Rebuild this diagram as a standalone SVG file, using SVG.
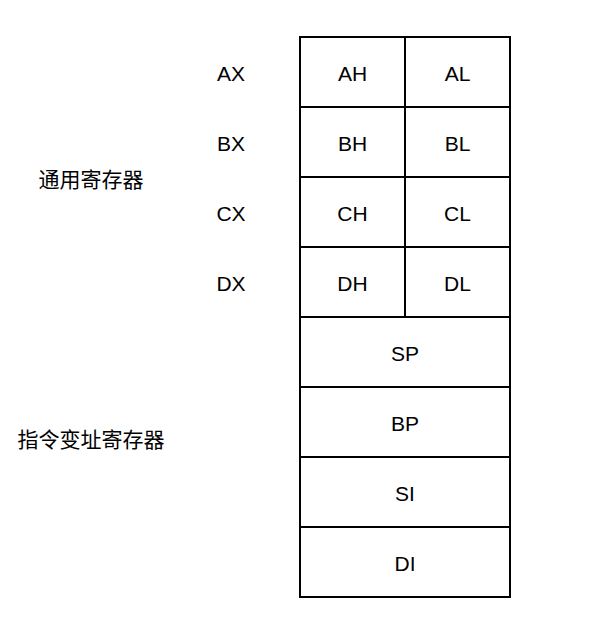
<svg xmlns="http://www.w3.org/2000/svg" width="611" height="618" viewBox="0 0 611 618">
<style>
.c{fill:#fff;stroke:#000;stroke-width:2}
.t{font-family:"Liberation Sans",Arial,"Noto Sans CJK SC",sans-serif;font-size:21px;fill:#000;text-anchor:middle;dominant-baseline:central}
</style>
<rect width="611" height="618" fill="#fff"/>
<g id="AH"><rect class="c" x="300" y="37" width="105" height="70"/><text class="t" x="352.5" y="73">AH</text></g>
<g id="AL"><rect class="c" x="405" y="37" width="105" height="70"/><text class="t" x="457.5" y="73">AL</text></g>
<g id="BH"><rect class="c" x="300" y="107" width="105" height="70"/><text class="t" x="352.5" y="143">BH</text></g>
<g id="BL"><rect class="c" x="405" y="107" width="105" height="70"/><text class="t" x="457.5" y="143">BL</text></g>
<g id="CH"><rect class="c" x="300" y="177" width="105" height="70"/><text class="t" x="352.5" y="213">CH</text></g>
<g id="CL"><rect class="c" x="405" y="177" width="105" height="70"/><text class="t" x="457.5" y="213">CL</text></g>
<g id="DH"><rect class="c" x="300" y="247" width="105" height="70"/><text class="t" x="352.5" y="283">DH</text></g>
<g id="DL"><rect class="c" x="405" y="247" width="105" height="70"/><text class="t" x="457.5" y="283">DL</text></g>
<g id="SP"><rect class="c" x="300" y="317" width="210" height="70"/><text class="t" x="405" y="353">SP</text></g>
<g id="BP"><rect class="c" x="300" y="387" width="210" height="70"/><text class="t" x="405" y="423">BP</text></g>
<g id="SI"><rect class="c" x="300" y="457" width="210" height="70"/><text class="t" x="405" y="493">SI</text></g>
<g id="DI"><rect class="c" x="300" y="527" width="210" height="70"/><text class="t" x="405" y="563">DI</text></g>
<g id="AX"><text class="t" x="231" y="73">AX</text></g>
<g id="BX"><text class="t" x="231" y="143">BX</text></g>
<g id="CX"><text class="t" x="231" y="213">CX</text></g>
<g id="DX"><text class="t" x="231" y="283">DX</text></g>
<g id="general"><text class="t" x="91" y="179">通用寄存器</text></g>
<g id="index"><text class="t" x="91" y="439">指令变址寄存器</text></g>
<g id="connectors"></g>
</svg>
